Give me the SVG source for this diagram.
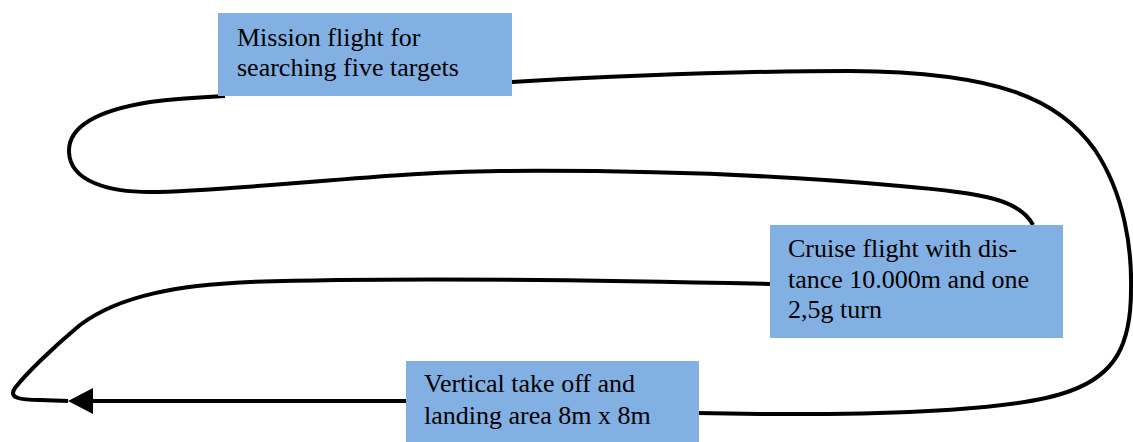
<svg xmlns="http://www.w3.org/2000/svg" width="1133" height="442" viewBox="0 0 1133 442">
<style>
.box{fill:#82B0E3;}
.lbl{font-family:"Liberation Serif","Times New Roman",serif;font-size:26px;fill:#000;}
.ln{fill:none;stroke:#000;stroke-width:4;stroke-linecap:butt;stroke-linejoin:round;}
</style>
<defs>
<marker id="arr" markerUnits="userSpaceOnUse" markerWidth="26" markerHeight="28" refX="0" refY="13" orient="auto" viewBox="0 0 26 26">
<path d="M0,0 L25,13 L0,26 Z" fill="#000"/>
</marker>
</defs>
<rect width="1133" height="442" fill="#fff"/>
<g id="connectors">
<path class="ln" d="M770,284 C600,280 400,277 250,282 C180,285 120,295 80,325 C50,350 25,375 15,388 C8,398 20,400 40,400 L68,401"/>
<path class="ln" d="M1033,225 C1020,200 985,193 900,186 C780,175 640,170 500,171 C380,172 230,192 150,192 C110,192 70,182 69,152 C68,125 100,110 150,102 C180,98 205,97 225,96"/>
<path class="ln" d="M512,82 C650,74 750,71 850,71 C1000,72 1060,100 1095,150 C1125,195 1132,250 1131,290 C1131,345 1115,375 1070,391 C1020,410 900,415 760,414 L697,413"/>
<path class="ln" d="M406,401 L93,401" marker-end="url(#arr)"/>
</g>
<g id="mission">
<rect class="box" x="218" y="13" width="294" height="83"/>
<text class="lbl" x="237" y="46">Mission flight for</text>
<text class="lbl" x="237" y="76">searching five targets</text>
</g>
<g id="cruise">
<rect class="box" x="770" y="225" width="293" height="113"/>
<text class="lbl" x="788" y="257">Cruise flight with dis-</text>
<text class="lbl" x="788" y="288">tance 10.000m and one</text>
<text class="lbl" x="788" y="318">2,5g turn</text>
</g>
<g id="vtol">
<rect class="box" x="406" y="361" width="293" height="81"/>
<text class="lbl" x="424" y="392">Vertical take off and</text>
<text class="lbl" x="424" y="424">landing area 8m x 8m</text>
</g>
</svg>
